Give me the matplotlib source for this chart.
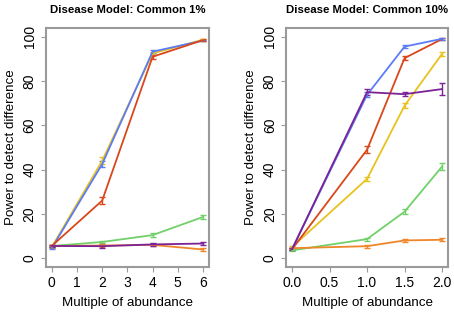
import matplotlib
matplotlib.use("Agg")
import matplotlib.pyplot as plt

plt.rcParams["font.family"] = ["Liberation Sans", "DejaVu Sans"]

# panel 1: Common 1%
x_left = [0, 2, 4, 6]
left_series = {
    "yellow": [5.0, 44.0, 92.5, 98.7],
    "blue": [4.5, 42.5, 93.3, 98.3],
    "red": [5.5, 26.0, 91.0, 98.5],
    "green": [5.5, 7.3, 10.4, 18.6],
    "orange": [5.5, 5.7, 6.0, 3.9],
    "purple": [5.5, 5.4, 6.2, 6.6],
}
left_err = {
    "yellow": [0.5, 1.5, 0.8, 0.4],
    "blue": [0.5, 1.5, 0.8, 0.4],
    "red": [0.5, 1.5, 0.8, 0.4],
    "green": [0.3, 0.6, 0.8, 0.8],
    "orange": [0.3, 0.5, 0.5, 0.5],
    "purple": [0.3, 0.6, 0.6, 0.8],
}

# panel 2: Common 10%
x_right = [0.0, 1.0, 1.5, 2.0]
right_series = {
    "yellow": [5.0, 35.8, 68.9, 92.3],
    "red": [4.0, 49.0, 90.4, 99.0],
    "blue": [4.0, 73.8, 95.6, 99.1],
    "green": [3.5, 8.6, 21.0, 41.4],
    "orange": [4.5, 5.4, 8.0, 8.3],
    "purple": [4.0, 75.0, 74.1, 76.4],
}
right_err = {
    "yellow": [0.5, 1.0, 1.0, 0.8],
    "red": [0.5, 1.5, 1.0, 0.4],
    "blue": [0.5, 1.2, 0.6, 0.4],
    "green": [0.3, 0.7, 1.2, 1.5],
    "orange": [0.3, 0.7, 0.6, 0.6],
    "purple": [0.5, 1.5, 1.0, 2.6],
}

colors = {
    "yellow": "#E8C21E",
    "blue": "#5A7CF5",
    "red": "#D9471A",
    "green": "#72D06A",
    "orange": "#F0862A",
    "purple": "#7B2296",
}

frame_color = "#9a9a9a"


def draw_panel(ax, xs, series, errs, title, xticks, xticklabels):
    for name, ys in series.items():
        ax.errorbar(xs, ys, yerr=errs[name], color=colors[name], lw=1.3,
                    elinewidth=1.0, capsize=2.0, capthick=1.0)
    ax.set_ylim(-4, 104)
    pad = (xs[-1] - xs[0]) * 0.04
    ax.set_xlim(xs[0] - pad, xs[-1] + pad)
    ax.set_yticks([0, 20, 40, 60, 80, 100])
    ax.set_yticklabels(["0", "20", "40", "60", "80", "100"], rotation=90, va="center")
    ax.set_xticks(xticks)
    ax.set_xticklabels(xticklabels)
    ax.tick_params(colors="black", labelsize=10, length=3.6, width=0.8, pad=3)
    ax.tick_params(axis="both", color=frame_color)
    for spine in ax.spines.values():
        spine.set_color(frame_color)
        spine.set_linewidth(1.5)
    ax.set_xlabel("Multiple of abundance", fontsize=9.6, labelpad=5)
    ax.set_ylabel("Power to detect difference", fontsize=9.6, labelpad=4)
    ax.set_title(title, fontsize=8.2, fontweight="bold", pad=11)


fig = plt.figure(figsize=(4.54, 3.13), dpi=100)
ax1 = fig.add_axes([0.1007, 0.147, 0.3597, 0.7636])
ax2 = fig.add_axes([0.630, 0.147, 0.357, 0.7636])

draw_panel(ax1, x_left, left_series, left_err, "Disease Model: Common 1%",
           [0, 1, 2, 3, 4, 5, 6], ["0", "1", "2", "3", "4", "5", "6"])
draw_panel(ax2, x_right, right_series, right_err, "Disease Model: Common 10%",
           [0.0, 0.5, 1.0, 1.5, 2.0], ["0.0", "0.5", "1.0", "1.5", "2.0"])

fig.savefig("out.png", dpi=100)
